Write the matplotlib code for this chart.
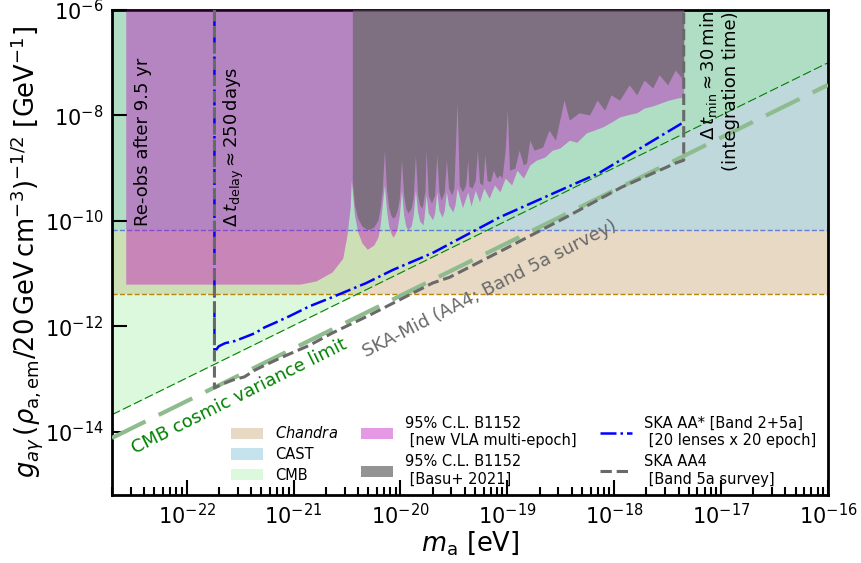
import numpy as np
import matplotlib
matplotlib.use("Agg")
import matplotlib.pyplot as plt
from matplotlib.ticker import LogLocator, NullLocator, FixedLocator
from matplotlib.patches import Patch
from matplotlib.lines import Line2D

# --- data (log10 values) ---
x_lim = [2.0e-23, 1.0e-16]
y_lim = [6.3e-16, 1.0e-6]
x_ticks = [1e-22, 1e-21, 1e-20, 1e-19, 1e-18, 1e-17, 1e-16]
y_ticks = [1e-14, 1e-12, 1e-10, 1e-8, 1e-6]

chandra_g = 4.1e-12
cast_g = 6.6e-11

# CMB bound and CMB cosmic-variance limit (straight lines, g ~ m)
cmb_m = [2.0e-23, 1.0e-16]
cmb_g = [2.1e-14, 1.0e-7]
cv_m = [2.0e-23, 1.0e-16]
cv_g = [7.6e-15, 3.8e-8]

# 95% C.L. B1152, new VLA multi-epoch: lower edge
vla_lm = [-22.57, -20.94, -20.79, -20.64, -20.54, -20.50, -20.47, -20.46,
          -20.43, -20.40, -20.36, -20.31, -20.25, -20.21, -20.19, -20.17, -20.15,
          -20.13, -20.11, -20.09, -20.07, -20.05, -20.03, -20.01, -19.99,
          -19.97, -19.95, -19.93, -19.90, -19.88, -19.86,
          -19.84, -19.82, -19.79, -19.78, -19.76,
          -19.74, -19.70, -19.68, -19.66,
          -19.64, -19.61, -19.59, -19.57,
          -19.55, -19.51, -19.49, -19.47,
          -19.42, -19.37, -19.34, -19.30, -19.26, -19.22, -19.17, -19.12, -19.07, -19.02,
          -18.96, -18.91, -18.85, -18.79, -18.73, -18.65, -18.58, -18.51, -18.42, -18.35,
          -18.26, -18.19, -18.11, -18.03, -17.95, -17.88, -17.79, -17.72, -17.64, -17.56,
          -17.49, -17.41, -17.35]
vla_lg = [-11.20, -11.20, -11.14, -10.97, -10.71, -10.27, -9.74, -9.23,
          -9.89, -10.21, -10.42, -10.54, -10.46, -10.31, -10.08, -9.70, -9.32,
          -9.80, -10.10, -10.23, -10.31, -10.25, -10.14, -9.89, -9.42,
          -9.89, -10.10, -10.17, -10.10, -9.89, -9.42,
          -9.83, -10.00, -10.08, -9.95, -9.51,
          -9.85, -9.98, -9.85, -9.45,
          -9.80, -9.93, -9.80, -9.45,
          -9.70, -9.83, -9.70, -9.38,
          -9.75, -9.45, -9.72, -9.42, -9.64, -9.38, -9.57, -9.32, -9.45, -9.19,
          -9.32, -9.04, -9.19, -8.94, -8.85, -8.79, -8.66, -8.62, -8.47, -8.51,
          -8.33, -8.28, -8.22, -8.13, -8.03, -7.99, -7.95, -7.86, -7.82, -7.76,
          -7.71, -7.67, -7.65]

# 95% C.L. B1152, Basu+ 2021: lower edge
basu_lm = [-20.45, -20.43, -20.40, -20.36, -20.31, -20.25, -20.21, -20.19, -20.17, -20.15,
           -20.13, -20.11, -20.09, -20.07, -20.05, -20.03, -20.01, -19.99,
           -19.97, -19.95, -19.93, -19.90, -19.88, -19.86,
           -19.84, -19.82, -19.80, -19.79, -19.77, -19.76,
           -19.74, -19.71, -19.68, -19.66,
           -19.64, -19.62, -19.59, -19.57,
           -19.55, -19.52, -19.50, -19.47,
           -19.45, -19.42, -19.39, -19.37, -19.36, -19.33, -19.30, -19.28,
           -19.26, -19.23, -19.21, -19.19, -19.16, -19.13, -19.10, -19.07, -19.05,
           -19.02, -19.00, -18.98, -18.93, -18.89, -18.85, -18.82, -18.79, -18.75,
           -18.67, -18.61, -18.55, -18.47, -18.42, -18.33, -18.23, -18.16, -18.09,
           -18.03, -17.95, -17.86, -17.79, -17.72, -17.64, -17.58, -17.50, -17.43, -17.35]
basu_lg = [-9.23, -9.70, -9.95, -10.10, -10.17, -10.12, -9.98, -9.76, -9.42, -8.66,
           -9.42, -9.74, -9.89, -9.95, -9.91, -9.80, -9.57, -8.85,
           -9.51, -9.76, -9.85, -9.76, -9.55, -8.75,
           -9.51, -9.70, -9.76, -9.68, -9.42, -8.66,
           -9.51, -9.66, -9.51, -8.75,
           -9.45, -9.61, -9.45, -8.85,
           -9.38, -9.51, -9.38, -7.76,
           -9.32, -9.45, -9.32, -8.85, -9.34, -9.38, -9.23, -8.66,
           -9.28, -9.32, -8.75, -9.23, -9.26, -9.04, -9.19, -9.13, -9.19,
           -8.66, -7.90, -9.04, -9.00, -8.66, -8.94, -8.90, -8.47, -8.66,
           -8.60, -8.28, -8.47, -7.71, -8.09, -7.95, -7.99, -7.71, -7.90,
           -7.61, -7.71, -7.42, -7.61, -7.33, -7.48, -7.23, -7.42, -7.14, -7.33]

# SKA AA* [Band 2+5a] forecast
aastar_lm = [-21.74, -21.74, -21.70, -21.64, -21.55, -21.46, -21.36, -21.27, -21.18, -21.04,
             -20.85, -20.64, -20.32, -20.07, -19.70, -19.07, -18.14, -17.36]
aastar_lg = [-6.0, -12.49, -12.38, -12.32, -12.28, -12.21, -12.13, -12.02, -11.94, -11.81,
             -11.62, -11.45, -11.18, -10.93, -10.61, -9.93, -9.09, -8.14]

# SKA AA4 [Band 5a survey] forecast
aa4_lm = [-21.74, -21.74, -21.67, -21.57, -21.46, -21.36, -21.27, -21.10, -20.85, -20.64,
          -20.29, -19.70, -19.54, -19.01, -18.45, -17.93, -17.42, -17.35, -17.35]
aa4_lg = [-6.0, -13.17, -13.10, -13.02, -12.96, -12.83, -12.74, -12.58, -12.36, -12.13,
          -11.79, -11.18, -11.07, -10.52, -9.93, -9.36, -8.90, -8.85, -6.0]


fig = plt.figure(figsize=(8.61, 5.63), dpi=100)
ax = fig.add_axes([0.130, 0.1208, 0.8317, 0.8614])
ax.set_xscale("log")
ax.set_yscale("log")

# excluded regions
ax.axhspan(chandra_g, y_lim[1], color="tan", alpha=0.5, lw=0, zorder=1)
ax.axhspan(cast_g, y_lim[1], color="lightblue", alpha=0.7, lw=0, zorder=1)
ax.fill_between(cmb_m, cmb_g, y_lim[1], color="lightgreen", alpha=0.3, lw=0, zorder=1)
ax.axhline(chandra_g, color="darkgoldenrod", ls="--", lw=1, zorder=2)
ax.axhline(cast_g, color="royalblue", ls="--", lw=1, alpha=0.8, zorder=2)
ax.plot(cmb_m, cmb_g, color="green", ls=(0, (8, 3)), lw=0.8, zorder=2)

vla_m = 10 ** np.array(vla_lm)
ax.fill_between(vla_m, 10 ** np.array(vla_lg), y_lim[1], color="m", alpha=0.4, lw=0, zorder=3)
basu_m = 10 ** np.array(basu_lm)
ax.fill_between(basu_m, 10 ** np.array(basu_lg), y_lim[1], color="dimgray", alpha=0.72, lw=0, zorder=4)

# forecasts
ax.plot(cv_m, cv_g, color="darkseagreen", lw=3, ls=(0, (9, 3.5)), zorder=5)
ax.plot(10 ** np.array(aastar_lm), 10 ** np.array(aastar_lg), color="blue", lw=1.8, ls="-.", zorder=6)
ax.plot(10 ** np.array(aa4_lm), 10 ** np.array(aa4_lg), color="dimgray", lw=2.2, ls="--", zorder=6)

# annotations
ax.text(3.9e-23, 3.2e-9, "Re-obs after 9.5 yr", rotation=90, fontsize=13, ha="center", va="center", zorder=7)
ax.text(2.75e-22, 2.5e-9, r"$\Delta\,t_{\rm delay}\approx 250\,$days", rotation=90, fontsize=13,
        ha="center", va="center", zorder=7)
ax.text(9.6e-18, 9.5e-7, r"$\Delta\,t_{\rm min}\approx 30\,$min" + "\n(integration time)", rotation=90,
        fontsize=13, ha="center", va="top", multialignment="right", zorder=7)
ax.text(3.4e-23, 3.3e-15, "CMB cosmic variance limit", rotation=26.5, rotation_mode="anchor",
        color="green", fontsize=13, ha="left", va="bottom", zorder=7)
ax.text(5.0e-21, 2.2e-13, "SKA-Mid (AA4; Band 5a survey)", rotation=27, rotation_mode="anchor",
        color="dimgray", fontsize=13, ha="left", va="bottom", zorder=7)

ax.set_xlim(x_lim)
ax.set_ylim(y_lim)
ax.set_xlabel(r"$m_{\rm a}$ [eV]", fontsize=18.5, labelpad=0)
ax.set_ylabel(r"$g_{a\gamma}\,(\rho_{\rm a,em}/20\,{\rm GeV\,cm^{-3}})^{-1/2}$ [GeV$^{-1}$]",
              fontsize=18.5, labelpad=0)

ax.yaxis.set_major_locator(FixedLocator(y_ticks))
ax.yaxis.set_minor_locator(NullLocator())
ax.xaxis.set_major_locator(FixedLocator(x_ticks))
ax.xaxis.set_minor_locator(LogLocator(base=10, subs=np.arange(2, 10), numticks=12))
ax.tick_params(which="major", direction="in", length=11, width=1.5, labelsize=15, pad=6,
               top=False, right=False)
ax.tick_params(which="minor", direction="in", length=6, width=1.5, top=False, right=False)
for s in ax.spines.values():
    s.set_linewidth(2)

handles = [
    Patch(color="tan", alpha=0.5, lw=0, label=r"$Chandra$"),
    Patch(color="lightblue", alpha=0.7, lw=0, label="CAST"),
    Patch(color="lightgreen", alpha=0.3, lw=0, label="CMB"),
    Patch(color="m", alpha=0.4, lw=0, label="95% C.L. B1152\n [new VLA multi-epoch]"),
    Patch(color="dimgray", alpha=0.72, lw=0, label="95% C.L. B1152\n [Basu+ 2021]"),
    Line2D([], [], color="blue", lw=1.8, ls="-.", label="SKA AA* [Band 2+5a]\n [20 lenses x 20 epoch]"),
    Line2D([], [], color="dimgray", lw=2.2, ls="--", label="SKA AA4\n [Band 5a survey]"),
]
ax.legend(handles=handles, ncol=3, frameon=False, fontsize=10.5, loc="lower center",
          bbox_to_anchor=(0.575, -0.004), handlelength=2.2, handleheight=0.8,
          columnspacing=1.6, labelspacing=0.4, borderpad=0.2)

fig.savefig("out.png", dpi=100)
